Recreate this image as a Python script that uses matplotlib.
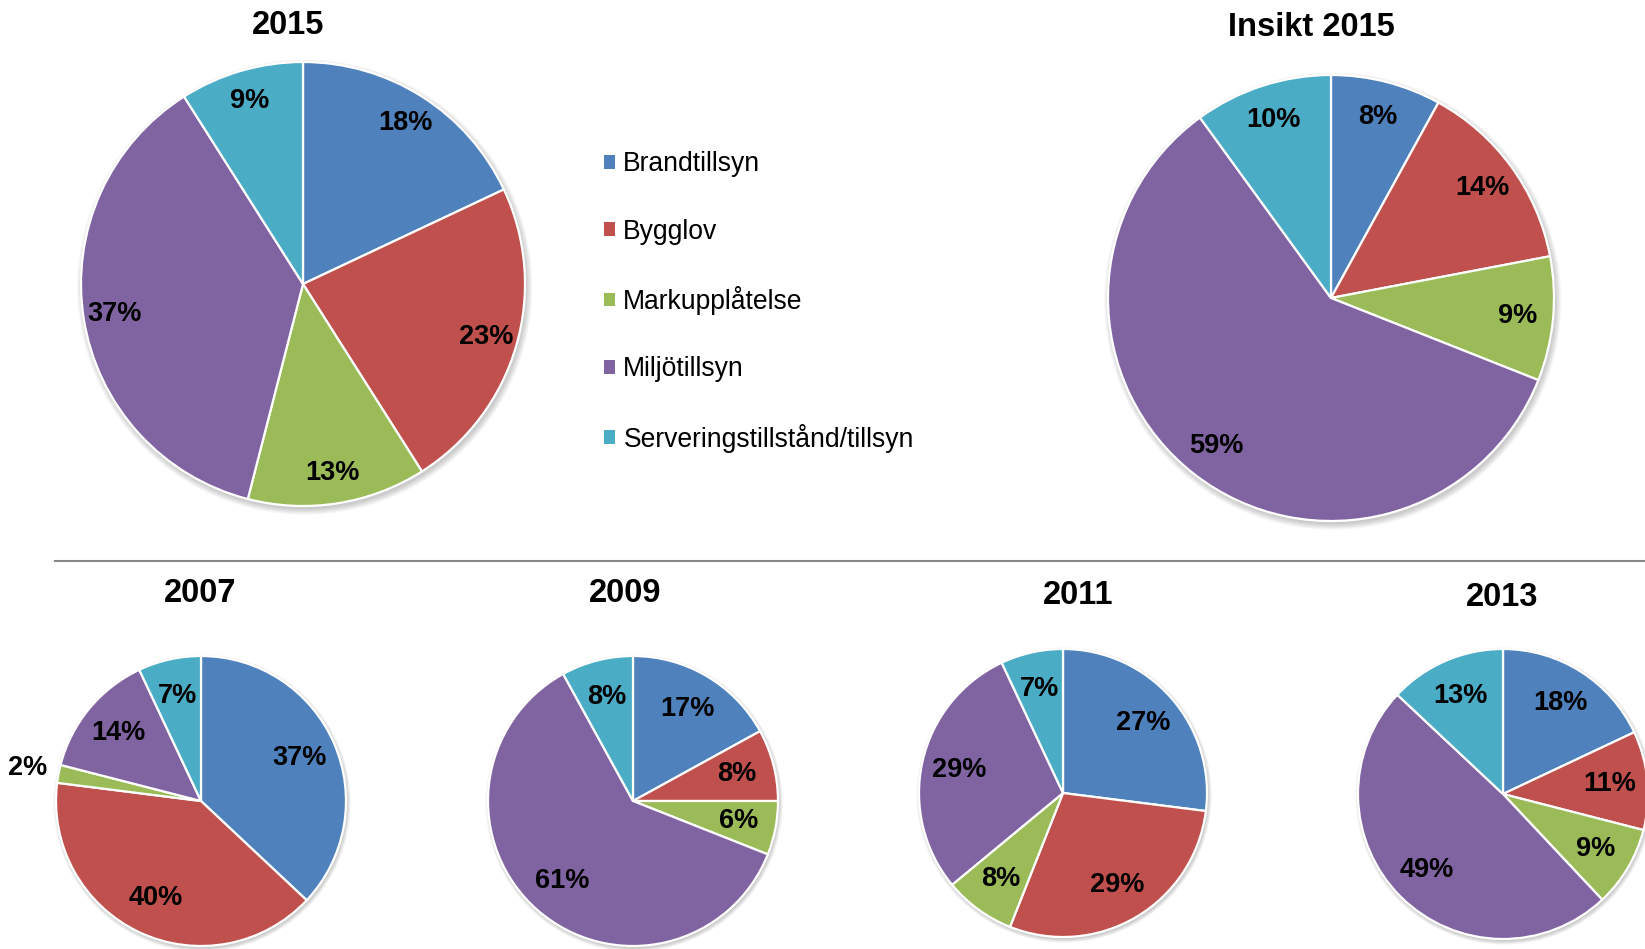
import matplotlib.pyplot as plt
import numpy as np
from matplotlib.lines import Line2D
from matplotlib.patches import Circle, Patch

plt.rcParams['font.family'] = ['Liberation Sans', 'DejaVu Sans']

categories = ['Brandtillsyn', 'Bygglov', 'Markupplåtelse', 'Miljötillsyn',
              'Serveringstillstånd/tillsyn']
colors = ['#4F81BD', '#C0504D', '#9BBB59', '#8064A2', '#4BACC6']

# percent per category, same order as categories
vals_2015 = [18, 23, 13, 37, 9]
vals_insikt = [8, 14, 9, 59, 10]
vals_2007 = [37, 40, 2, 14, 7]
vals_2009 = [17, 8, 6, 61, 8]
vals_2011 = [27, 29, 8, 29, 7]
vals_2013 = [18, 11, 9, 49, 13]

W, H = 1645, 949
fig = plt.figure(figsize=(W / 100, H / 100), dpi=100)

PAD = 1.15


def pie_at(vals, title, cx, cy, r, tx, ty, pctd):
    # cx, cy, r in pixels from top-left of the figure
    ax = fig.add_axes([(cx - PAD * r) / W, (H - cy - PAD * r) / H,
                       2 * PAD * r / W, 2 * PAD * r / H])
    ax.axis('off')

    # soft drop shadow
    for k in range(6):
        ax.add_patch(Circle((0.008, -0.014), 1.0 + k * 0.005, color='black',
                            alpha=0.035, lw=0, zorder=0))

    wedges, _, autotexts = ax.pie(
        vals, colors=colors, startangle=90, counterclock=False,
        autopct='%1.0f%%', pctdistance=pctd,
        wedgeprops=dict(edgecolor='white', linewidth=1.6),
        textprops=dict(fontsize=19.5, fontweight='bold', color='black'))
    for w in wedges:
        w.set_zorder(2)
    for v, w, t in zip(vals, wedges, autotexts):
        t.set_zorder(3)
        if v < 3:
            # tiny slice: label sits outside the pie
            a = np.deg2rad((w.theta1 + w.theta2) / 2)
            t.set_position((1.22 * np.cos(a), 1.22 * np.sin(a)))
    ax.set_xlim(-PAD, PAD)
    ax.set_ylim(-PAD, PAD)
    ax.set_aspect('equal')

    fig.text(tx / W, 1 - ty / H, title, ha='center', va='center',
             fontsize=23.5, fontweight='bold')
    return ax


pie_at(vals_2015, '2015', 303, 284, 222, 288, 25, 0.86)
pie_at(vals_insikt, 'Insikt 2015', 1331, 298, 223, 1311, 27, 0.84)
pie_at(vals_2007, '2007', 201, 801, 145, 200, 593, 0.74)
pie_at(vals_2009, '2009', 633, 801, 145, 625, 593, 0.74)
pie_at(vals_2011, '2011', 1063, 793, 144, 1078, 595, 0.74)
pie_at(vals_2013, '2013', 1503, 794, 145, 1502, 598, 0.74)

# separator line between the two rows
fig.add_artist(Line2D([55 / W, 1.0], [1 - 561 / H, 1 - 561 / H],
                      color='#888888', lw=1.5))

handles = [Patch(facecolor=c, edgecolor='none') for c in colors]
fig.legend(handles, categories, loc='upper left',
           bbox_to_anchor=(591 / W, 1 - 138 / H), frameon=False,
           fontsize=19.1, handlelength=0.42, handleheight=0.42,
           handletextpad=0.3, labelspacing=1.56, borderpad=0)

fig.savefig('out.png', dpi=100, facecolor='white')
